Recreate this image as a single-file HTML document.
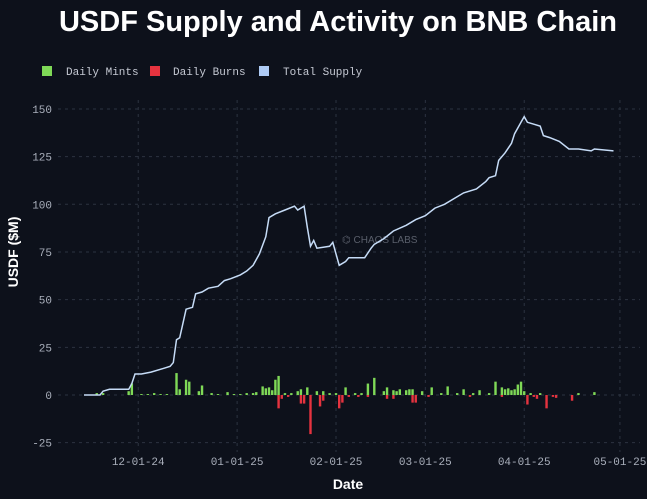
<!DOCTYPE html>
<html><head><meta charset="utf-8"><style>
html,body{margin:0;padding:0;background:#0d111b;}
svg{display:block;font-family:"Liberation Mono",monospace;}
</style></head><body>
<svg id="chart" width="647" height="499" xmlns="http://www.w3.org/2000/svg">
<rect width="647" height="499" fill="#0d111b"/>
<text x="338" y="31" text-anchor="middle" fill="#ffffff" font-family="Liberation Sans, sans-serif" font-weight="bold" font-size="29">USDF Supply and Activity on BNB Chain</text>
<g>
<g><rect x="42" y="66" width="10" height="10" fill="#7fd957"/><text x="66" y="75" fill="#c5c9d3" font-size="11">Daily Mints</text></g>
<g><rect x="150" y="66" width="10" height="10" fill="#e5333f"/><text x="173" y="75" fill="#c5c9d3" font-size="11">Daily Burns</text></g>
<g><rect x="259" y="66" width="10" height="10" fill="#aecbf5"/><text x="283" y="75" fill="#c5c9d3" font-size="11">Total Supply</text></g>
</g>
<text x="18" y="252" transform="rotate(-90 18 252)" text-anchor="middle" fill="#ffffff" font-family="Liberation Sans, sans-serif" font-weight="bold" font-size="14">USDF ($M)</text>
<text x="348" y="489" text-anchor="middle" fill="#ffffff" font-family="Liberation Sans, sans-serif" font-weight="bold" font-size="14">Date</text>
<text x="342" y="243" fill="#5a5f6b" font-family="Liberation Sans, sans-serif" font-size="10">⌬ CHAOS LABS</text>
<g id="grid"></g><g id="bars"></g><g id="line"></g><g id="ticks"></g>
</svg>
<script>
const yTicks=[-25,0,25,50,75,100,125,150];
const xTickDays=[17,48,79,107,138,168];
const xTickLabels=["12-01-24","01-01-25","02-01-25","03-01-25","04-01-25","05-01-25"];
const supplyDays=[0,5,6,8,14,15,16,18,21,25,27,28,29,30,32,34,35,37,39,42,44,46,49,51,53,55,57,58,60,63,66,67,69,70,71,72,73,77,78,79,80,82,83,88,90,91,94,97,101,104,107,110,113,116,119,123,126,127,129,130,132,134,135,137,138,139,141,143,144,146,149,152,155,159,160,166];
const supplyValues=[0,0,2,3,3,6,11,11,12,14,15,17,29,30,45,46,53,54,56,57,60,61,63,65,68,74,83,93,95,97,99,97,99,88,78,81,77,78,80,74,68,70,72,72,77,79,82,86,89,92,94,98,100,103,106,108,112,114,115,123,127,132,137,143,146,143,142,141,136,135,133,129,129,128,129,128];
const mintDays=[4,6,14,15,18,20,22,24,26,29,30,32,33,36,37,40,42,45,47,49,51,53,54,56,57,58,59,60,61,63,65,67,68,70,73,75,77,79,82,85,87,89,91,94,95,97,98,99,101,102,103,106,109,112,114,117,119,122,124,127,129,131,132,133,134,135,136,137,138,140,143,155,160];
const mintValues=[1,1,2,6,0.5,0.5,1,0.5,0.5,11.5,3,8,7,2,5,1,0.5,1.5,0.5,0.5,1,1,1.5,4.5,3.5,4,2.5,8,10,1,1,2,3,4,2,2,1,1,4,1,1,6,9,2,4,2.5,2,3,2.5,3,3,2,4,1,4.5,1,3,1,2.5,1,7,4,3,3.5,2.5,3,5.5,7,2,1,1,1,1.5];
const burnDays=[61,62,64,68,69,71,74,75,80,81,83,86,89,95,97,103,104,108,121,131,139,141,142,145,147,148,153];
const burnValues=[-7,-2,-1,-4.5,-4.5,-20.5,-6,-3,-7,-4,-1,-1,-1,-2,-2,-4,-4,-1,-1,-1,-5,-1,-2,-7,-1,-1.5,-3];
const NS="http://www.w3.org/2000/svg";
const X0=84,PXD=3.19,Y0=395,PXV=1.907,L=58,R=640,T=100,B=452;
const xs=d=>X0+d*PXD, ys=v=>Y0-v*PXV;
function mk(tag,attrs,parent){const e=document.createElementNS(NS,tag);for(const k in attrs)e.setAttribute(k,attrs[k]);document.getElementById(parent).appendChild(e);return e;}
yTicks.forEach(v=>{
 const g=mk('line',{x1:L,x2:R,y1:ys(v),y2:ys(v),stroke:'#2c3340','stroke-dasharray':'3,4','stroke-width':1},'grid');
 
 
 const t=mk('text',{x:52,y:ys(v)+4,'text-anchor':'end',fill:'#aab0bc','font-size':11},'ticks');
 t.textContent=v;
 
 
});
xTickDays.forEach((d,i)=>{
 const g=mk('line',{x1:xs(d),x2:xs(d),y1:T,y2:B,stroke:'#2c3340','stroke-dasharray':'3,4','stroke-width':1},'grid');
 
 
 const t=mk('text',{x:xs(d),y:465,'text-anchor':'middle',fill:'#aab0bc','font-size':11},'ticks');
 t.textContent=xTickLabels[i];
 
 
});
mintDays.forEach((d,i)=>{
 const v=mintValues[i];
 const r=mk('rect',{x:xs(d)-1.2,y:ys(v),width:2.4,height:Math.max(0.5,v*PXV),fill:'#7fd957'},'bars');
 
 
});
burnDays.forEach((d,i)=>{
 const v=burnValues[i];
 const r=mk('rect',{x:xs(d)-1.2,y:Y0,width:2.4,height:-v*PXV,fill:'#e5333f'},'bars');
 
 
});
const pts=supplyDays.map((d,i)=>xs(d).toFixed(1)+','+ys(supplyValues[i]).toFixed(1)).join(' ');
const pl=mk('polyline',{points:pts,fill:'none',stroke:'#c6dcf7','stroke-width':1.5},'line');


</script>
</body></html>
